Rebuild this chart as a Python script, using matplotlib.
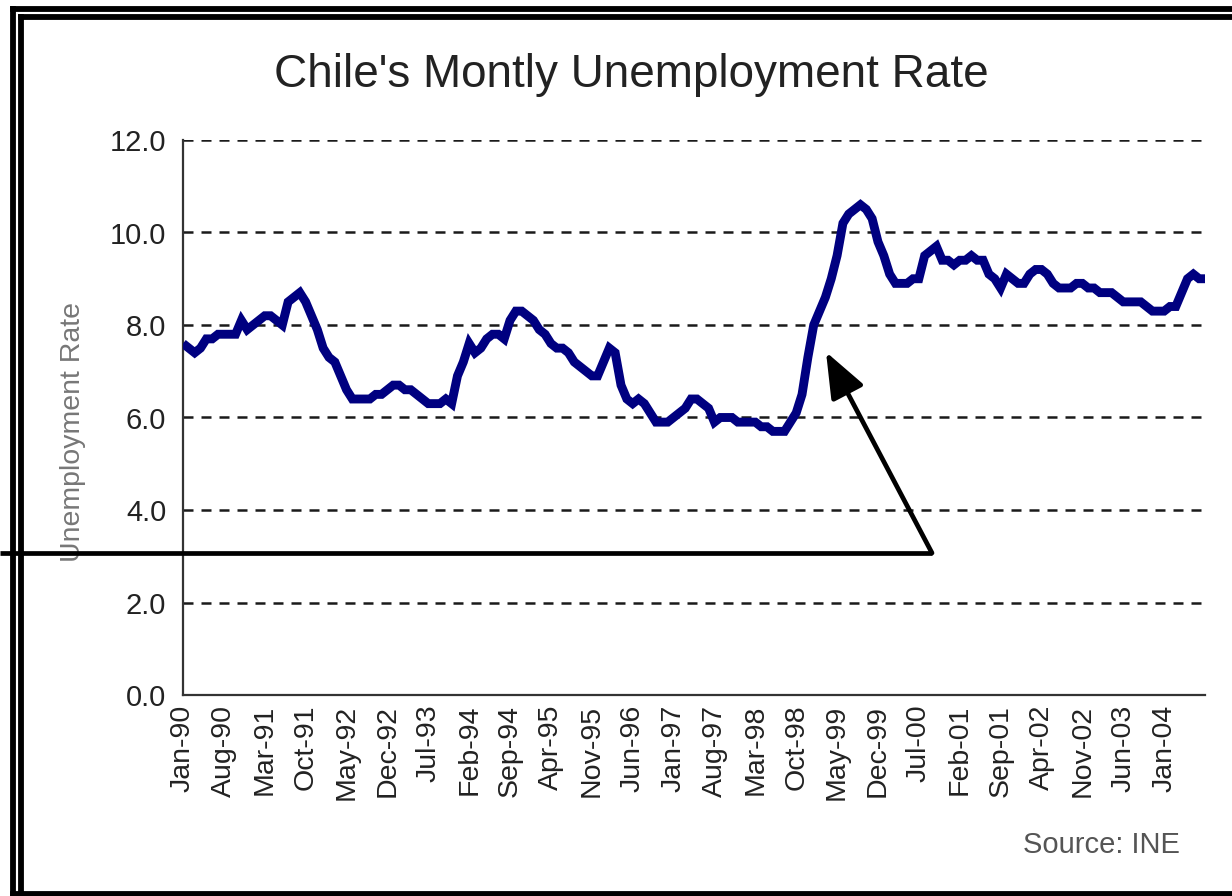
import matplotlib
matplotlib.use("Agg")
import matplotlib.pyplot as plt
from matplotlib.lines import Line2D
from matplotlib.patches import FancyArrowPatch, ArrowStyle

plt.rcParams['font.family'] = ['Liberation Sans', 'DejaVu Sans']

# Monthly unemployment rate, Jan-1990 .. Aug-2004
rate = [
    7.6, 7.5, 7.4, 7.5, 7.7, 7.7, 7.8, 7.8, 7.8, 7.8, 8.1, 7.9,   # 1990
    8.0, 8.1, 8.2, 8.2, 8.1, 8.0, 8.5, 8.6, 8.7, 8.5, 8.2, 7.9,   # 1991
    7.5, 7.3, 7.2, 6.9, 6.6, 6.4, 6.4, 6.4, 6.4, 6.5, 6.5, 6.6,   # 1992
    6.7, 6.7, 6.6, 6.6, 6.5, 6.4, 6.3, 6.3, 6.3, 6.4, 6.3, 6.9,   # 1993
    7.2, 7.6, 7.4, 7.5, 7.7, 7.8, 7.8, 7.7, 8.1, 8.3, 8.3, 8.2,   # 1994
    8.1, 7.9, 7.8, 7.6, 7.5, 7.5, 7.4, 7.2, 7.1, 7.0, 6.9, 6.9,   # 1995
    7.2, 7.5, 7.4, 6.7, 6.4, 6.3, 6.4, 6.3, 6.1, 5.9, 5.9, 5.9,   # 1996
    6.0, 6.1, 6.2, 6.4, 6.4, 6.3, 6.2, 5.9, 6.0, 6.0, 6.0, 5.9,   # 1997
    5.9, 5.9, 5.9, 5.8, 5.8, 5.7, 5.7, 5.7, 5.9, 6.1, 6.5, 7.3,   # 1998
    8.0, 8.3, 8.6, 9.0, 9.5, 10.2, 10.4, 10.5, 10.6, 10.5, 10.3, 9.8,  # 1999
    9.5, 9.1, 8.9, 8.9, 8.9, 9.0, 9.0, 9.5, 9.6, 9.7, 9.4, 9.4,   # 2000
    9.3, 9.4, 9.4, 9.5, 9.4, 9.4, 9.1, 9.0, 8.8, 9.1, 9.0, 8.9,   # 2001
    8.9, 9.1, 9.2, 9.2, 9.1, 8.9, 8.8, 8.8, 8.8, 8.9, 8.9, 8.8,   # 2002
    8.8, 8.7, 8.7, 8.7, 8.6, 8.5, 8.5, 8.5, 8.5, 8.4, 8.3, 8.3,   # 2003
    8.3, 8.4, 8.4, 8.7, 9.0, 9.1, 9.0, 9.0,                       # 2004
]
tick_labels = ["Jan-90", "Aug-90", "Mar-91", "Oct-91", "May-92", "Dec-92",
               "Jul-93", "Feb-94", "Sep-94", "Apr-95", "Nov-95", "Jun-96",
               "Jan-97", "Aug-97", "Mar-98", "Oct-98", "May-99", "Dec-99",
               "Jul-00", "Feb-01", "Sep-01", "Apr-02", "Nov-02", "Jun-03",
               "Jan-04"]
tick_step = 7
y_ticks = [0, 2, 4, 6, 8, 10, 12]

W, H = 1232, 896
fig = plt.figure(figsize=(W / 100, H / 100), dpi=100)
fig.patch.set_facecolor("white")

def fx(px):
    return px / W

def fy(py):
    return 1 - py / H

ax = fig.add_axes([fx(183), fy(695), fx(1205) - fx(183), fy(140) - fy(695)])
x = list(range(len(rate)))
ax.plot(x, rate, color="#000080", lw=6.4, solid_joinstyle="miter",
        solid_capstyle="butt", zorder=3)

ax.set_xlim(0, len(rate) - 1)
ax.set_ylim(0, 12)
ax.set_yticks(y_ticks)
ax.set_yticklabels([f"{v:.1f}" for v in y_ticks])
ax.set_xticks(list(range(0, len(tick_labels) * tick_step, tick_step)))
ax.set_xticklabels(tick_labels, rotation=90)
ax.tick_params(axis="both", length=0, labelsize=21, colors="#222222")
ax.tick_params(axis="y", pad=12)
ax.tick_params(axis="x", pad=7)
for t in ax.get_xticklabels():
    t.set_fontsize(20.5)

ax.yaxis.grid(True, linestyle=(0, (4, 3.2)), color="#1a1a1a", lw=1.8)
ax.set_axisbelow(True)
for s in ["top", "right"]:
    ax.spines[s].set_visible(False)
for s in ["left", "bottom"]:
    ax.spines[s].set_color("#333333")
    ax.spines[s].set_linewidth(1.6)

ax.set_ylabel("Unemployment Rate", fontsize=20.5, color="#777777")
ax.yaxis.set_label_coords((86 - 183) / (1205 - 183), (695 - 432) / (695 - 140))

fig.text(fx(631), fy(75), "Chile's Montly Unemployment Rate", fontsize=33,
         color="#222222", ha="center", va="center")
fig.text(fx(1180), fy(845), "Source: INE", fontsize=21, color="#555555",
         ha="right", va="center")

# annotation arrow
lw_ann = 3.4
fig.add_artist(Line2D([fx(0), fx(932)], [fy(553), fy(553)], color="black",
                      lw=lw_ann, transform=fig.transFigure, solid_capstyle="butt"))
arrow = FancyArrowPatch((fx(932), fy(553)), (fx(826), fy(352)),
                        transform=fig.transFigure,
                        arrowstyle=ArrowStyle("-|>", head_length=28, head_width=11),
                        mutation_scale=1, color="black", lw=lw_ann,
                        shrinkA=0, shrinkB=0)
fig.add_artist(arrow)

# double frame
lw_b = 4.2
def seg(x0, y0, x1, y1):
    fig.add_artist(Line2D([fx(x0), fx(x1)], [fy(y0), fy(y1)], color="black",
                          lw=lw_b, transform=fig.transFigure,
                          solid_capstyle="projecting"))

seg(12.5, 9.5, 12.5, 900)
seg(12.5, 9.5, 1240, 9.5)
seg(20.5, 17.5, 20.5, 900)
seg(20.5, 17.5, 1240, 17.5)
seg(12.5, 893.5, 1240, 893.5)

fig.savefig("out.png", dpi=100, facecolor="white")
